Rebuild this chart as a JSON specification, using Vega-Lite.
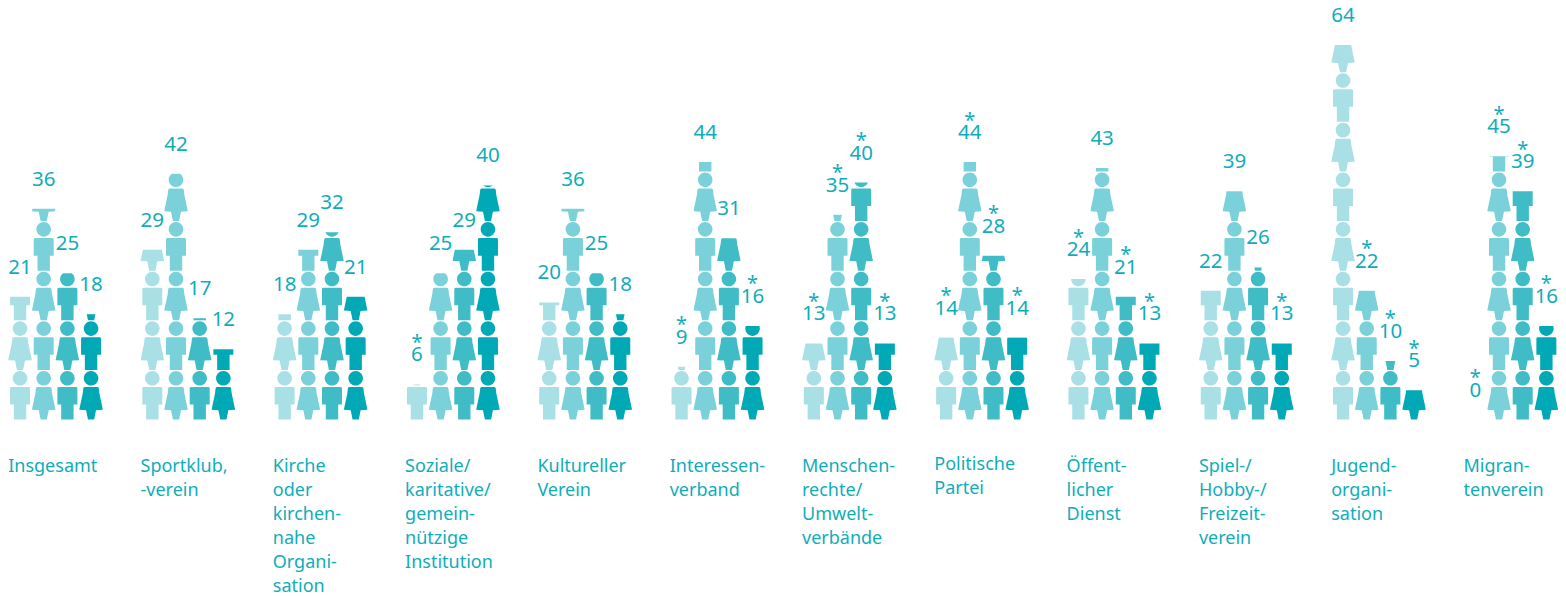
{"$schema":"https://vega.github.io/schema/vega-lite/v6.json","width":1566,"height":419.5,"autosize":{"type":"none"},"padding":{"left":0,"top":0,"right":0,"bottom":176.5},"background":"#ffffff","config":{"view":{"stroke":null},"font":"Noto Sans"},
"datasets":{"values":[
{"g":"Insgesamt","s":"A","v":21,"n":""},{"g":"Insgesamt","s":"B","v":36,"n":""},{"g":"Insgesamt","s":"C","v":25,"n":""},{"g":"Insgesamt","s":"D","v":18,"n":""},
{"g":"Sportklub,|-verein","s":"A","v":29,"n":""},{"g":"Sportklub,|-verein","s":"B","v":42,"n":""},{"g":"Sportklub,|-verein","s":"C","v":17.3,"n":""},{"g":"Sportklub,|-verein","s":"D","v":12,"n":""},
{"g":"Kirche|oder|kirchen-|nahe|Organi-|sation","s":"A","v":18,"n":""},{"g":"Kirche|oder|kirchen-|nahe|Organi-|sation","s":"B","v":29,"n":""},{"g":"Kirche|oder|kirchen-|nahe|Organi-|sation","s":"C","v":32,"n":""},{"g":"Kirche|oder|kirchen-|nahe|Organi-|sation","s":"D","v":21,"n":""},
{"g":"Soziale/|karitative/|gemein-|nützige|Institution","s":"A","v":6,"n":"*"},{"g":"Soziale/|karitative/|gemein-|nützige|Institution","s":"B","v":25,"n":""},{"g":"Soziale/|karitative/|gemein-|nützige|Institution","s":"C","v":29,"n":""},{"g":"Soziale/|karitative/|gemein-|nützige|Institution","s":"D","v":40,"n":""},
{"g":"Kultureller|Verein","s":"A","v":20,"n":""},{"g":"Kultureller|Verein","s":"B","v":36,"n":""},{"g":"Kultureller|Verein","s":"C","v":25,"n":""},{"g":"Kultureller|Verein","s":"D","v":18,"n":""},
{"g":"Interessen-|verband","s":"A","v":9,"n":"*"},{"g":"Interessen-|verband","s":"B","v":44,"n":""},{"g":"Interessen-|verband","s":"C","v":31,"n":""},{"g":"Interessen-|verband","s":"D","v":16,"n":"*"},
{"g":"Menschen-|rechte/|Umwelt-|verbände","s":"A","v":13,"n":"*"},{"g":"Menschen-|rechte/|Umwelt-|verbände","s":"B","v":35,"n":"*"},{"g":"Menschen-|rechte/|Umwelt-|verbände","s":"C","v":40.49,"n":"*"},{"g":"Menschen-|rechte/|Umwelt-|verbände","s":"D","v":13,"n":"*"},
{"g":"Politische|Partei","s":"A","v":14,"n":"*"},{"g":"Politische|Partei","s":"B","v":44,"n":"*"},{"g":"Politische|Partei","s":"C","v":28,"n":"*"},{"g":"Politische|Partei","s":"D","v":14,"n":"*"},
{"g":"Öffent-|licher|Dienst","s":"A","v":24,"n":"*"},{"g":"Öffent-|licher|Dienst","s":"B","v":43,"n":""},{"g":"Öffent-|licher|Dienst","s":"C","v":21,"n":"*"},{"g":"Öffent-|licher|Dienst","s":"D","v":13,"n":"*"},
{"g":"Spiel-/|Hobby-/|Freizeit-|verein","s":"A","v":22,"n":""},{"g":"Spiel-/|Hobby-/|Freizeit-|verein","s":"B","v":39,"n":""},{"g":"Spiel-/|Hobby-/|Freizeit-|verein","s":"C","v":26,"n":""},{"g":"Spiel-/|Hobby-/|Freizeit-|verein","s":"D","v":13,"n":"*"},
{"g":"Jugend-|organi-|sation","s":"A","v":64,"n":""},{"g":"Jugend-|organi-|sation","s":"B","v":22,"n":"*"},{"g":"Jugend-|organi-|sation","s":"C","v":10,"n":"*"},{"g":"Jugend-|organi-|sation","s":"D","v":5,"n":"*"},
{"g":"Migran-|tenverein","s":"A","v":0,"n":"*"},{"g":"Migran-|tenverein","s":"B","v":45,"n":"*"},{"g":"Migran-|tenverein","s":"C","v":39,"n":"*"},{"g":"Migran-|tenverein","s":"D","v":16,"n":"*"}
],"figures":[
{"g":"Insgesamt","s":"A","m":4.24,"f":"m"},{"g":"Insgesamt","s":"A","m":12.72,"f":"w"},{"g":"Insgesamt","s":"A","m":21.2,"f":"m"},
{"g":"Insgesamt","s":"B","m":4.24,"f":"w"},{"g":"Insgesamt","s":"B","m":12.72,"f":"m"},{"g":"Insgesamt","s":"B","m":21.2,"f":"w"},{"g":"Insgesamt","s":"B","m":29.68,"f":"m"},{"g":"Insgesamt","s":"B","m":38.16,"f":"w"},
{"g":"Insgesamt","s":"C","m":4.24,"f":"m"},{"g":"Insgesamt","s":"C","m":12.72,"f":"w"},{"g":"Insgesamt","s":"C","m":21.2,"f":"m"},
{"g":"Insgesamt","s":"D","m":4.24,"f":"w"},{"g":"Insgesamt","s":"D","m":12.72,"f":"m"},{"g":"Insgesamt","s":"D","m":21.2,"f":"w"},
{"g":"Sportklub,|-verein","s":"A","m":4.24,"f":"m"},{"g":"Sportklub,|-verein","s":"A","m":12.72,"f":"w"},{"g":"Sportklub,|-verein","s":"A","m":21.2,"f":"m"},{"g":"Sportklub,|-verein","s":"A","m":29.68,"f":"w"},
{"g":"Sportklub,|-verein","s":"B","m":4.24,"f":"w"},{"g":"Sportklub,|-verein","s":"B","m":12.72,"f":"m"},{"g":"Sportklub,|-verein","s":"B","m":21.2,"f":"w"},{"g":"Sportklub,|-verein","s":"B","m":29.68,"f":"m"},{"g":"Sportklub,|-verein","s":"B","m":38.16,"f":"w"},
{"g":"Sportklub,|-verein","s":"C","m":4.24,"f":"m"},{"g":"Sportklub,|-verein","s":"C","m":12.72,"f":"w"},{"g":"Sportklub,|-verein","s":"C","m":21.2,"f":"m"},
{"g":"Sportklub,|-verein","s":"D","m":4.24,"f":"w"},{"g":"Sportklub,|-verein","s":"D","m":12.72,"f":"m"},
{"g":"Kirche|oder|kirchen-|nahe|Organi-|sation","s":"A","m":4.24,"f":"m"},{"g":"Kirche|oder|kirchen-|nahe|Organi-|sation","s":"A","m":12.72,"f":"w"},{"g":"Kirche|oder|kirchen-|nahe|Organi-|sation","s":"A","m":21.2,"f":"m"},
{"g":"Kirche|oder|kirchen-|nahe|Organi-|sation","s":"B","m":4.24,"f":"w"},{"g":"Kirche|oder|kirchen-|nahe|Organi-|sation","s":"B","m":12.72,"f":"m"},{"g":"Kirche|oder|kirchen-|nahe|Organi-|sation","s":"B","m":21.2,"f":"w"},{"g":"Kirche|oder|kirchen-|nahe|Organi-|sation","s":"B","m":29.68,"f":"m"},
{"g":"Kirche|oder|kirchen-|nahe|Organi-|sation","s":"C","m":4.24,"f":"m"},{"g":"Kirche|oder|kirchen-|nahe|Organi-|sation","s":"C","m":12.72,"f":"w"},{"g":"Kirche|oder|kirchen-|nahe|Organi-|sation","s":"C","m":21.2,"f":"m"},{"g":"Kirche|oder|kirchen-|nahe|Organi-|sation","s":"C","m":29.68,"f":"w"},
{"g":"Kirche|oder|kirchen-|nahe|Organi-|sation","s":"D","m":4.24,"f":"w"},{"g":"Kirche|oder|kirchen-|nahe|Organi-|sation","s":"D","m":12.72,"f":"m"},{"g":"Kirche|oder|kirchen-|nahe|Organi-|sation","s":"D","m":21.2,"f":"w"},
{"g":"Soziale/|karitative/|gemein-|nützige|Institution","s":"A","m":4.24,"f":"m"},
{"g":"Soziale/|karitative/|gemein-|nützige|Institution","s":"B","m":4.24,"f":"w"},{"g":"Soziale/|karitative/|gemein-|nützige|Institution","s":"B","m":12.72,"f":"m"},{"g":"Soziale/|karitative/|gemein-|nützige|Institution","s":"B","m":21.2,"f":"w"},
{"g":"Soziale/|karitative/|gemein-|nützige|Institution","s":"C","m":4.24,"f":"m"},{"g":"Soziale/|karitative/|gemein-|nützige|Institution","s":"C","m":12.72,"f":"w"},{"g":"Soziale/|karitative/|gemein-|nützige|Institution","s":"C","m":21.2,"f":"m"},{"g":"Soziale/|karitative/|gemein-|nützige|Institution","s":"C","m":29.68,"f":"w"},
{"g":"Soziale/|karitative/|gemein-|nützige|Institution","s":"D","m":4.24,"f":"w"},{"g":"Soziale/|karitative/|gemein-|nützige|Institution","s":"D","m":12.72,"f":"m"},{"g":"Soziale/|karitative/|gemein-|nützige|Institution","s":"D","m":21.2,"f":"w"},{"g":"Soziale/|karitative/|gemein-|nützige|Institution","s":"D","m":29.68,"f":"m"},{"g":"Soziale/|karitative/|gemein-|nützige|Institution","s":"D","m":38.16,"f":"w"},
{"g":"Kultureller|Verein","s":"A","m":4.24,"f":"m"},{"g":"Kultureller|Verein","s":"A","m":12.72,"f":"w"},{"g":"Kultureller|Verein","s":"A","m":21.2,"f":"m"},
{"g":"Kultureller|Verein","s":"B","m":4.24,"f":"w"},{"g":"Kultureller|Verein","s":"B","m":12.72,"f":"m"},{"g":"Kultureller|Verein","s":"B","m":21.2,"f":"w"},{"g":"Kultureller|Verein","s":"B","m":29.68,"f":"m"},{"g":"Kultureller|Verein","s":"B","m":38.16,"f":"w"},
{"g":"Kultureller|Verein","s":"C","m":4.24,"f":"m"},{"g":"Kultureller|Verein","s":"C","m":12.72,"f":"w"},{"g":"Kultureller|Verein","s":"C","m":21.2,"f":"m"},
{"g":"Kultureller|Verein","s":"D","m":4.24,"f":"w"},{"g":"Kultureller|Verein","s":"D","m":12.72,"f":"m"},{"g":"Kultureller|Verein","s":"D","m":21.2,"f":"w"},
{"g":"Interessen-|verband","s":"A","m":4.24,"f":"m"},{"g":"Interessen-|verband","s":"A","m":12.72,"f":"w"},
{"g":"Interessen-|verband","s":"B","m":4.24,"f":"w"},{"g":"Interessen-|verband","s":"B","m":12.72,"f":"m"},{"g":"Interessen-|verband","s":"B","m":21.2,"f":"w"},{"g":"Interessen-|verband","s":"B","m":29.68,"f":"m"},{"g":"Interessen-|verband","s":"B","m":38.16,"f":"w"},{"g":"Interessen-|verband","s":"B","m":46.64,"f":"m"},
{"g":"Interessen-|verband","s":"C","m":4.24,"f":"m"},{"g":"Interessen-|verband","s":"C","m":12.72,"f":"w"},{"g":"Interessen-|verband","s":"C","m":21.2,"f":"m"},{"g":"Interessen-|verband","s":"C","m":29.68,"f":"w"},
{"g":"Interessen-|verband","s":"D","m":4.24,"f":"w"},{"g":"Interessen-|verband","s":"D","m":12.72,"f":"m"},
{"g":"Menschen-|rechte/|Umwelt-|verbände","s":"A","m":4.24,"f":"m"},{"g":"Menschen-|rechte/|Umwelt-|verbände","s":"A","m":12.72,"f":"w"},
{"g":"Menschen-|rechte/|Umwelt-|verbände","s":"B","m":4.24,"f":"w"},{"g":"Menschen-|rechte/|Umwelt-|verbände","s":"B","m":12.72,"f":"m"},{"g":"Menschen-|rechte/|Umwelt-|verbände","s":"B","m":21.2,"f":"w"},{"g":"Menschen-|rechte/|Umwelt-|verbände","s":"B","m":29.68,"f":"m"},{"g":"Menschen-|rechte/|Umwelt-|verbände","s":"B","m":38.16,"f":"w"},
{"g":"Menschen-|rechte/|Umwelt-|verbände","s":"C","m":4.24,"f":"m"},{"g":"Menschen-|rechte/|Umwelt-|verbände","s":"C","m":12.72,"f":"w"},{"g":"Menschen-|rechte/|Umwelt-|verbände","s":"C","m":21.2,"f":"m"},{"g":"Menschen-|rechte/|Umwelt-|verbände","s":"C","m":29.68,"f":"w"},{"g":"Menschen-|rechte/|Umwelt-|verbände","s":"C","m":38.16,"f":"m"},
{"g":"Menschen-|rechte/|Umwelt-|verbände","s":"D","m":4.24,"f":"w"},{"g":"Menschen-|rechte/|Umwelt-|verbände","s":"D","m":12.72,"f":"m"},
{"g":"Politische|Partei","s":"A","m":4.24,"f":"m"},{"g":"Politische|Partei","s":"A","m":12.72,"f":"w"},
{"g":"Politische|Partei","s":"B","m":4.24,"f":"w"},{"g":"Politische|Partei","s":"B","m":12.72,"f":"m"},{"g":"Politische|Partei","s":"B","m":21.2,"f":"w"},{"g":"Politische|Partei","s":"B","m":29.68,"f":"m"},{"g":"Politische|Partei","s":"B","m":38.16,"f":"w"},{"g":"Politische|Partei","s":"B","m":46.64,"f":"m"},
{"g":"Politische|Partei","s":"C","m":4.24,"f":"m"},{"g":"Politische|Partei","s":"C","m":12.72,"f":"w"},{"g":"Politische|Partei","s":"C","m":21.2,"f":"m"},{"g":"Politische|Partei","s":"C","m":29.68,"f":"w"},
{"g":"Politische|Partei","s":"D","m":4.24,"f":"w"},{"g":"Politische|Partei","s":"D","m":12.72,"f":"m"},
{"g":"Öffent-|licher|Dienst","s":"A","m":4.24,"f":"m"},{"g":"Öffent-|licher|Dienst","s":"A","m":12.72,"f":"w"},{"g":"Öffent-|licher|Dienst","s":"A","m":21.2,"f":"m"},
{"g":"Öffent-|licher|Dienst","s":"B","m":4.24,"f":"w"},{"g":"Öffent-|licher|Dienst","s":"B","m":12.72,"f":"m"},{"g":"Öffent-|licher|Dienst","s":"B","m":21.2,"f":"w"},{"g":"Öffent-|licher|Dienst","s":"B","m":29.68,"f":"m"},{"g":"Öffent-|licher|Dienst","s":"B","m":38.16,"f":"w"},{"g":"Öffent-|licher|Dienst","s":"B","m":46.64,"f":"m"},
{"g":"Öffent-|licher|Dienst","s":"C","m":4.24,"f":"m"},{"g":"Öffent-|licher|Dienst","s":"C","m":12.72,"f":"w"},{"g":"Öffent-|licher|Dienst","s":"C","m":21.2,"f":"m"},
{"g":"Öffent-|licher|Dienst","s":"D","m":4.24,"f":"w"},{"g":"Öffent-|licher|Dienst","s":"D","m":12.72,"f":"m"},
{"g":"Spiel-/|Hobby-/|Freizeit-|verein","s":"A","m":4.24,"f":"m"},{"g":"Spiel-/|Hobby-/|Freizeit-|verein","s":"A","m":12.72,"f":"w"},{"g":"Spiel-/|Hobby-/|Freizeit-|verein","s":"A","m":21.2,"f":"m"},
{"g":"Spiel-/|Hobby-/|Freizeit-|verein","s":"B","m":4.24,"f":"w"},{"g":"Spiel-/|Hobby-/|Freizeit-|verein","s":"B","m":12.72,"f":"m"},{"g":"Spiel-/|Hobby-/|Freizeit-|verein","s":"B","m":21.2,"f":"w"},{"g":"Spiel-/|Hobby-/|Freizeit-|verein","s":"B","m":29.68,"f":"m"},{"g":"Spiel-/|Hobby-/|Freizeit-|verein","s":"B","m":38.16,"f":"w"},
{"g":"Spiel-/|Hobby-/|Freizeit-|verein","s":"C","m":4.24,"f":"m"},{"g":"Spiel-/|Hobby-/|Freizeit-|verein","s":"C","m":12.72,"f":"w"},{"g":"Spiel-/|Hobby-/|Freizeit-|verein","s":"C","m":21.2,"f":"m"},{"g":"Spiel-/|Hobby-/|Freizeit-|verein","s":"C","m":29.68,"f":"w"},
{"g":"Spiel-/|Hobby-/|Freizeit-|verein","s":"D","m":4.24,"f":"w"},{"g":"Spiel-/|Hobby-/|Freizeit-|verein","s":"D","m":12.72,"f":"m"},
{"g":"Jugend-|organi-|sation","s":"A","m":4.24,"f":"m"},{"g":"Jugend-|organi-|sation","s":"A","m":12.72,"f":"w"},{"g":"Jugend-|organi-|sation","s":"A","m":21.2,"f":"m"},{"g":"Jugend-|organi-|sation","s":"A","m":29.68,"f":"w"},{"g":"Jugend-|organi-|sation","s":"A","m":38.16,"f":"m"},{"g":"Jugend-|organi-|sation","s":"A","m":46.64,"f":"w"},{"g":"Jugend-|organi-|sation","s":"A","m":55.12,"f":"m"},{"g":"Jugend-|organi-|sation","s":"A","m":63.6,"f":"w"},
{"g":"Jugend-|organi-|sation","s":"B","m":4.24,"f":"w"},{"g":"Jugend-|organi-|sation","s":"B","m":12.72,"f":"m"},{"g":"Jugend-|organi-|sation","s":"B","m":21.2,"f":"w"},
{"g":"Jugend-|organi-|sation","s":"C","m":4.24,"f":"m"},{"g":"Jugend-|organi-|sation","s":"C","m":12.72,"f":"w"},
{"g":"Jugend-|organi-|sation","s":"D","m":4.24,"f":"w"},
{"g":"Migran-|tenverein","s":"B","m":4.24,"f":"w"},{"g":"Migran-|tenverein","s":"B","m":12.72,"f":"m"},{"g":"Migran-|tenverein","s":"B","m":21.2,"f":"w"},{"g":"Migran-|tenverein","s":"B","m":29.68,"f":"m"},{"g":"Migran-|tenverein","s":"B","m":38.16,"f":"w"},{"g":"Migran-|tenverein","s":"B","m":46.64,"f":"m"},
{"g":"Migran-|tenverein","s":"C","m":4.24,"f":"m"},{"g":"Migran-|tenverein","s":"C","m":12.72,"f":"w"},{"g":"Migran-|tenverein","s":"C","m":21.2,"f":"m"},{"g":"Migran-|tenverein","s":"C","m":29.68,"f":"w"},{"g":"Migran-|tenverein","s":"C","m":38.16,"f":"m"},
{"g":"Migran-|tenverein","s":"D","m":4.24,"f":"w"},{"g":"Migran-|tenverein","s":"D","m":12.72,"f":"m"}
]},
"encoding":{
"x":{"field":"g","type":"nominal","sort":null,"title":null,
"scale":{"domain":["Insgesamt","Sportklub,|-verein","Kirche|oder|kirchen-|nahe|Organi-|sation","Soziale/|karitative/|gemein-|nützige|Institution","Kultureller|Verein","Interessen-|verband","Menschen-|rechte/|Umwelt-|verbände","Politische|Partei","Öffent-|licher|Dienst","Spiel-/|Hobby-/|Freizeit-|verein","Jugend-|organi-|sation","Migran-|tenverein"],"range":[8.2,1558.2],"paddingInner":0.2842,"paddingOuter":0},
"axis":{"domain":false,"ticks":false,"grid":false,"labelAngle":0,"labelAlign":"left","labelBaseline":"alphabetic","labelOffset":-47.35,"labelPadding":{"condition":{"test":"datum.value==='Politische|Partei'","value":49.5},"value":52},"labelFontSize":18,"labelFont":"Noto Sans","labelColor":"#0FADBA","labelLineHeight":24,"labelLimit":0,"labelOverlap":false,"labelBound":false,"labelFlush":false,"labelExpr":"split(datum.label,'|')"}},
"xOffset":{"field":"s","type":"nominal","scale":{"domain":["A","B","C","D"],"paddingInner":0,"paddingOuter":0}}
},
"layer":[
{"data":{"name":"figures"},"mark":{"type":"point","filled":true,"size":2460,"opacity":1,"strokeWidth":0},
"encoding":{"y":{"field":"m","type":"quantitative","axis":null,"scale":{"domain":[0,71.7],"nice":false,"zero":false}},
"color":{"field":"s","type":"nominal","legend":null,"scale":{"domain":["A","B","C","D"],"range":["#A8E0E5","#7BD1D9","#3FBCC6","#00A9B5"]}},
"shape":{"field":"f","type":"nominal","legend":null,"scale":{"domain":["m","w"],"range":[
"M-0.294,-0.665A0.294,0.294,0,1,1,0.294,-0.665A0.294,0.294,0,1,1,-0.294,-0.665ZM-0.343,-0.315Q-0.403,-0.315,-0.403,-0.255L-0.403,0.395L-0.25,0.395L-0.25,1L0.25,1L0.25,0.395L0.403,0.395L0.403,-0.255Q0.403,-0.315,0.343,-0.315Z",
"M-0.294,-0.665A0.294,0.294,0,1,1,0.294,-0.665A0.294,0.294,0,1,1,-0.294,-0.665ZM-0.26,-0.315Q-0.31,-0.315,-0.315,-0.25L-0.335,-0.06L-0.472,0.59L-0.472,0.61L-0.2,0.625L-0.125,1L0.125,1L0.2,0.625L0.472,0.61L0.472,0.59L0.335,-0.06L0.315,-0.25Q0.31,-0.315,0.26,-0.315Z"]}}}},
{"data":{"name":"values"},"mark":{"type":"bar","color":"#ffffff"},
"encoding":{"y":{"field":"v","type":"quantitative","stack":null},"y2":{"datum":71.7}}},
{"data":{"name":"values"},"mark":{"type":"text","dy":-23,"baseline":"alphabetic","align":"center","fontSize":20.5,"font":"Noto Sans","color":"#0FADBA"},
"encoding":{"y":{"field":"v","type":"quantitative"},"text":{"field":"v","type":"quantitative","format":".0f"}}},
{"data":{"name":"values"},"mark":{"type":"text","dy":-35.5,"baseline":"alphabetic","align":"center","fontSize":20,"font":"Noto Sans","color":"#0FADBA"},
"encoding":{"y":{"field":"v","type":"quantitative"},"text":{"field":"n","type":"nominal"}}}
]}
